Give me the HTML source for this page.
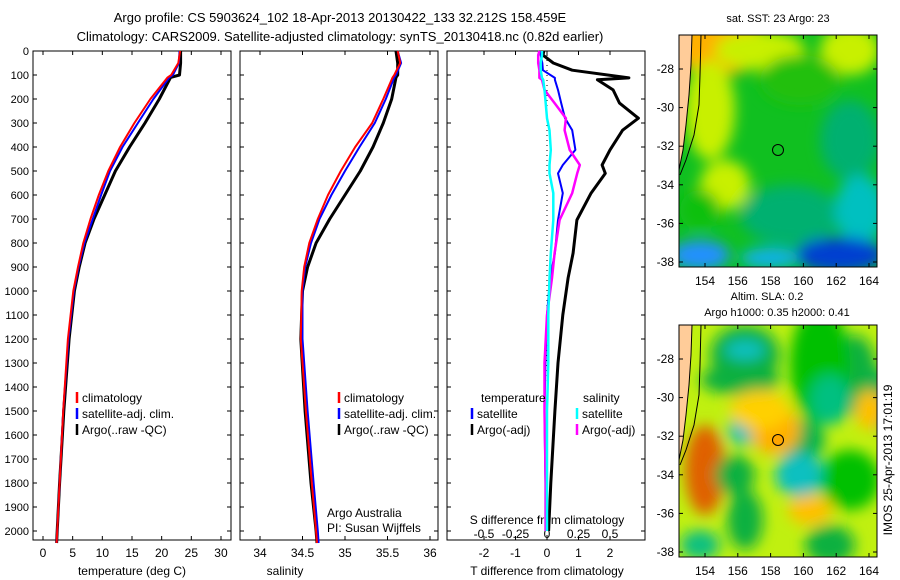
<!DOCTYPE html>
<html><head><meta charset="utf-8"><style>
html,body{margin:0;padding:0;background:#fff;overflow:hidden;width:900px;height:580px;}
svg{display:block;font-family:"Liberation Sans",sans-serif;}
</style></head><body>
<svg id="c" width="900" height="580" xmlns="http://www.w3.org/2000/svg">
<defs>
<clipPath id="m1c"><rect x="679" y="35" width="198" height="232"/></clipPath>
<clipPath id="m2c"><rect x="679" y="325" width="198" height="232"/></clipPath>
<filter id="bl" x="-50%" y="-50%" width="200%" height="200%"><feGaussianBlur stdDeviation="7"/></filter>
</defs>
<text x="340" y="22" font-size="13" text-anchor="middle">Argo profile: CS 5903624_102 18-Apr-2013 20130422_133 32.212S 158.459E</text>
<text x="340" y="41" font-size="13" text-anchor="middle">Climatology: CARS2009. Satellite-adjusted climatology: synTS_20130418.nc (0.82d earlier)</text>
<g id="g"></g>
</svg>
<script>
// ---- data ----
const depths = [0,50,100,110,200,300,400,500,600,700,800,900,1000,1200,1500,1800,2000,2050];
const tempArgo = [23.2,23.2,23.0,21.5,19.6,17.2,14.6,12.2,10.4,8.6,7.1,6.1,5.3,4.4,3.5,2.8,2.4,2.3];
const tempClim = [23.1,22.8,21.6,21.0,18.1,15.4,13.0,11.0,9.4,8.0,6.8,5.9,5.1,4.2,3.4,2.8,2.4,2.3];
const tempSat  = [23.0,22.9,21.9,21.3,18.6,16.0,13.4,11.3,9.8,8.4,7.0,6.0,5.2,4.3,3.4,2.8,2.4,2.3];
const salArgo = [35.60,35.62,35.62,35.60,35.55,35.45,35.33,35.18,35.00,34.82,34.66,34.56,34.50,34.48,34.53,34.60,34.66,34.67];
const salClim = [35.62,35.65,35.58,35.56,35.45,35.32,35.12,34.95,34.80,34.68,34.58,34.52,34.49,34.48,34.54,34.61,34.66,34.67];
const salSat  = [35.62,35.66,35.60,35.58,35.48,35.35,35.17,35.00,34.84,34.70,34.60,34.53,34.50,34.50,34.56,34.63,34.68,34.69];
const dDepths = [0,17,50,80,112,120,162,217,280,330,412,475,510,592,704,842,946,1100,1300,1500,1800,2000];
const tDiffArgo = [-0.1,-0.13,0.2,0.8,2.6,1.6,2.1,2.3,2.9,2.4,2.0,1.75,1.85,1.4,0.95,0.83,0.67,0.5,0.35,0.25,0.12,0.05];
const tDiffSat  = [-0.2,-0.2,-0.15,-0.13,0.25,0.25,0.35,0.45,0.57,0.8,0.9,0.5,0.35,0.5,0.35,0.25,0.1,0.0,-0.05,-0.08,-0.05,-0.05];
const sDiffArgo = [-0.06,-0.07,-0.07,-0.06,-0.06,-0.04,-0.02,0.06,0.15,0.14,0.18,0.26,0.24,0.2,0.1,0.06,0.04,0.0,-0.02,-0.02,-0.01,-0.01];
const sDiffSat  = [-0.04,-0.04,-0.05,-0.05,-0.04,-0.03,-0.02,-0.01,0.0,0.02,0.03,0.02,0.02,0.05,0.05,0.03,0.02,0.01,0.01,0.0,0.0,0.0];
const depthTicks = [0,100,200,300,400,500,600,700,800,900,1000,1100,1200,1300,1400,1500,1600,1700,1800,1900,2000];
const tempTicks = [0,5,10,15,20,25,30];
const salTicks = [34,34.5,35,35.5,36];
const tdTicks = [-2,-1,0,1,2];
const sdTicks = [-0.5,-0.25,0,0.25,0.5];
const latTicks = [28,30,32,34,36,38];
const lonTicks = [154,156,158,160,162,164];

const NS="http://www.w3.org/2000/svg";
const G=document.getElementById('g');
function el(t,a,p){const e=document.createElementNS(NS,t);for(const k in a)e.setAttribute(k,a[k]);(p||G).appendChild(e);return e;}
function txt(x,y,s,fs,anchor,p){const e=el('text',{x:x,y:y,'font-size':fs,'text-anchor':anchor||'middle'},p);e.textContent=s;return e;}
const Y0=51, PY=0.24; const yD=d=>Y0+d*PY;
const panels=[{x:33,w:198},{x:240,w:198},{x:447,w:198}];
const xT=v=>43+v*5.933, xS=v=>260+(v-34)*85, xTD=v=>547+v*31.5, xSD=v=>547+v*126;

panels.forEach((p,i)=>{
  const r=el('rect',{x:p.x,y:Y0,width:p.w,height:489,fill:'none',stroke:'#000','stroke-width':1});
  
  
  depthTicks.forEach(d=>{
    el('line',{x1:p.x,x2:p.x+4,y1:yD(d),y2:yD(d),stroke:'#000'});
    el('line',{x1:p.x+p.w-4,x2:p.x+p.w,y1:yD(d),y2:yD(d),stroke:'#000'});
  });
});
depthTicks.forEach(d=>{const t=txt(29,yD(d)+4,String(d),11,'end');
  
  });
function xticks(arr,f,y){arr.forEach(v=>{const x=f(v);
  el('line',{x1:x,x2:x,y1:540,y2:536,stroke:'#000'});el('line',{x1:x,x2:x,y1:51,y2:55,stroke:'#000'});
  const t=txt(x,y,String(v),12);
  
  });}
xticks(tempTicks,xT,557);xticks(salTicks,xS,557);xticks(tdTicks,xTD,557);
sdTicks.forEach(v=>{const t=txt(xSD(v),538,String(v),12);
  
  });
[['temperature (deg C)',132],['salinity',285],['T difference from climatology',547]].forEach(a=>{const t=txt(a[1],575,a[0],12);
  
  });
{const t=txt(547,524,'S difference from climatology',12);
 
 }

function line(xs,ds,f,col,w,name){
  const pts=xs.map((v,i)=>f(v).toFixed(1)+','+yD(ds[i]).toFixed(1)).join(' ');
  const e=el('polyline',{points:pts,fill:'none',stroke:col,'stroke-width':w,'stroke-linejoin':'round'});
  
  
}
line(tempArgo,depths,xT,'#000',3,'temp-argo-line');
line(tempSat,depths,xT,'#0000ff',2,'temp-satellite-line');
line(tempClim,depths,xT,'#ff0000',2,'temp-climatology-line');
line(salArgo,depths,xS,'#000',3,'sal-argo-line');
line(salSat,depths,xS,'#0000ff',2,'sal-satellite-line');
line(salClim,depths,xS,'#ff0000',2,'sal-climatology-line');
el('line',{x1:547,x2:547,y1:55,y2:536,stroke:'#000','stroke-dasharray':'1,4'});
line(tDiffArgo,dDepths,xTD,'#000',3,'t-diff-argo-line');
line(tDiffSat,dDepths,xTD,'#0000ff',2,'t-diff-satellite-line');
line(sDiffArgo,dDepths,xSD,'#ff00ff',2.5,'s-diff-argo-line');
line(sDiffSat,dDepths,xSD,'#00ffff',2.5,'s-diff-satellite-line');

function legend(x,y,items,name){items.forEach((it,i)=>{
  el('line',{x1:x,x2:x,y1:y+i*16-10,y2:y+i*16+1,stroke:it[1],'stroke-width':2.5});
  const t=txt(x+5,y+i*16,it[0],12,'start');
  
  });}
const L1=[['climatology','#f00'],['satellite-adj. clim.','#00f'],['Argo(..raw -QC)','#000']];
legend(77,402,L1,'legend-entry');legend(339,402,L1,'legend-entry');
txt(481,402,'temperature',12,'start');txt(583,402,'salinity',12,'start');
legend(472,418,[['satellite','#00f'],['Argo(-adj)','#000']],'legend-entry');
legend(577,418,[['satellite','#0ff'],['Argo(-adj)','#f0f']],'legend-entry');
txt(327,517,'Argo Australia',12,'start');txt(327,532,'PI: Susan Wijffels',12,'start');

// maps
function map(y0,lat28y,blobs,base,name){
  const clip=y0<100?'url(#m1c)':'url(#m2c)';
  const g=el('g',{'clip-path':clip});
  
  
  el('rect',{x:679,y:y0,width:198,height:232,fill:base},g);
  const bg=el('g',{filter:'url(#bl)'},g);
  blobs.forEach(b=>el('ellipse',{cx:b[0],cy:b[1],rx:b[2],ry:b[3],fill:b[4]},bg));
  el('path',{d:`M679 ${y0} L692 ${y0} L691 ${y0+30} L689 ${y0+60} L686 ${y0+90} L683 ${y0+115} L679 ${y0+135} Z`,fill:'#ffcc99',stroke:'#000'},g);
  el('path',{d:`M701 ${y0} L700 ${y0+40} L699 ${y0+70} L694 ${y0+100} L686 ${y0+125} L680 ${y0+140}`,fill:'none',stroke:'#000'},g);
  el('rect',{x:679,y:y0,width:198,height:232,fill:'none',stroke:'#000'});
  latTicks.forEach(l=>{const y=lat28y+(l-28)*19.3;
    el('line',{x1:877,x2:873,y1:y,y2:y,stroke:'#000'});el('line',{x1:679,x2:683,y1:y,y2:y,stroke:'#000'});
    txt(674,y+4,'-'+l,12,'end');});
  lonTicks.forEach(l=>{const x=705+(l-154)*16.4;
    el('line',{x1:x,x2:x,y1:y0+232,y2:y0+228,stroke:'#000'});el('line',{x1:x,x2:x,y1:y0,y2:y0+4,stroke:'#000'});
    txt(x,y0+250,String(l),12);});
}
const sstBlobs=[[720,45,50,30,'#ffb000'],[760,50,45,20,'#c8f000'],[850,50,30,25,'#c8f000'],[710,110,25,50,'#c8f000'],[725,185,25,25,'#c8f000'],
 [800,80,40,25,'#20c010'],[850,140,30,40,'#00b070'],[790,215,50,30,'#00b070'],[860,210,25,35,'#00c0c0'],[700,255,30,15,'#2090ff'],
 [840,255,45,18,'#0040d0'],[770,258,30,10,'#10b0f0'],[700,210,20,20,'#10c010']];
const slaBlobs=[[745,355,35,30,'#10b040'],[745,350,20,10,'#10c0c0'],[740,380,40,15,'#10b040'],[855,375,22,40,'#10b040'],[880,400,18,30,'#10b050'],
 [820,365,30,60,'#00c000'],[830,400,20,25,'#00c080'],[800,440,25,20,'#00b050'],[743,430,15,15,'#10c0c0'],[775,430,25,25,'#ffb000'],
 [705,470,20,45,'#e06000'],[800,475,25,22,'#10c0c0'],[735,475,20,20,'#10b040'],[745,520,18,30,'#10b040'],[850,480,30,30,'#00c000'],
 [810,510,22,15,'#ffc000'],[870,410,15,20,'#ffc000'],[700,545,20,15,'#10c080'],[830,545,25,20,'#10b040'],[760,410,30,20,'#ffd000']];
map(35,69,sstBlobs,'#10c020','sst-map');
map(325,359,slaBlobs,'#c0f010','sla-map');
const mk1=el('circle',{cx:778,cy:150,r:5.5,fill:'none',stroke:'#000'});


const mk2=el('circle',{cx:778,cy:440,r:5.5,fill:'#ffa500',stroke:'#000'});


txt(778,22,'sat. SST: 23 Argo: 23',11);
txt(767,300,'Altim. SLA: 0.2',11);txt(777,316,'Argo h1000: 0.35 h2000: 0.41',11);
const ts=txt(0,0,'IMOS 25-Apr-2013 17:01:19',12,'middle');
ts.setAttribute('transform','translate(892,460) rotate(-90)');


</script>
</body></html>
